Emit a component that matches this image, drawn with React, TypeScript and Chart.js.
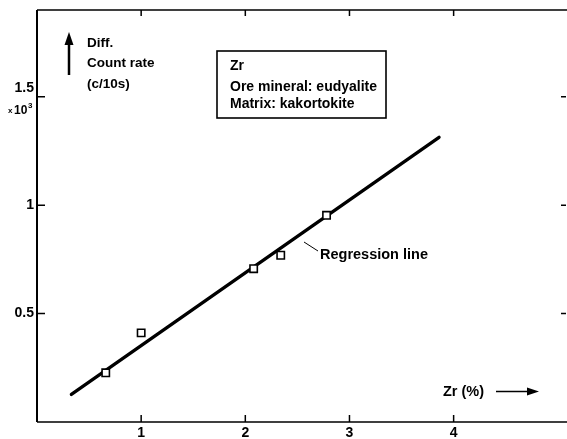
import React, { useEffect, useRef } from 'react';
import { Chart, registerables } from 'chart.js';

Chart.register(...registerables);

// Calibration standards: Zr content (%) vs. differential count rate (x10^3 c/10s)
const ZR_PERCENT = [0.66, 1.0, 2.08, 2.34, 2.78];
const COUNT_RATE = [0.227, 0.411, 0.707, 0.769, 0.953];

// Regression line end points
const FIT_X = [0.33, 3.86];
const FIT_Y = [0.127, 1.313];

const X_TICKS = [1, 2, 3, 4];
const X_TICK_LABELS = ['1', '2', '3', '4'];
const Y_TICKS = [0.5, 1, 1.5];
const Y_TICK_LABELS = ['0.5', '1', '1.5'];

const X_MAX = 5.1;
const Y_MAX = 1.9;

const FONT = '"Liberation Sans", Arial, sans-serif';

const frameAndNotes = {
  id: 'frameAndNotes',
  afterDraw(chart: any) {
    const ctx = chart.ctx as CanvasRenderingContext2D;
    const { left, right, top, bottom } = chart.chartArea;
    const xs = chart.scales.x;
    const ys = chart.scales.y;
    ctx.save();
    ctx.strokeStyle = '#000';
    ctx.fillStyle = '#000';

    // frame: open on the right
    ctx.lineWidth = 2;
    ctx.beginPath();
    ctx.moveTo(left, top);
    ctx.lineTo(left, bottom);
    ctx.stroke();
    ctx.lineWidth = 1.6;
    ctx.beginPath();
    ctx.moveTo(left, top);
    ctx.lineTo(right, top);
    ctx.moveTo(left, bottom);
    ctx.lineTo(right, bottom);
    ctx.stroke();

    // inward tick marks
    ctx.lineWidth = 1.5;
    ctx.beginPath();
    X_TICKS.forEach((v) => {
      const px = xs.getPixelForValue(v);
      ctx.moveTo(px, bottom);
      ctx.lineTo(px, bottom - 7);
      ctx.moveTo(px, top);
      ctx.lineTo(px, top + 6);
    });
    Y_TICKS.forEach((v) => {
      const py = ys.getPixelForValue(v);
      ctx.moveTo(left, py);
      ctx.lineTo(left + 8, py);
      ctx.moveTo(566, py);
      ctx.lineTo(561, py);
    });
    ctx.stroke();

    // tick labels
    ctx.font = `bold 14px ${FONT}`;
    ctx.textAlign = 'center';
    ctx.textBaseline = 'middle';
    X_TICKS.forEach((v, i) => {
      ctx.fillText(X_TICK_LABELS[i], xs.getPixelForValue(v), bottom + 11);
    });
    ctx.textAlign = 'right';
    Y_TICKS.forEach((v, i) => {
      const py = ys.getPixelForValue(v);
      const dy = v === 1.5 ? -9 : 0;
      ctx.fillText(Y_TICK_LABELS[i], left - 3, py + dy);
    });
    // multiplier under the top label
    ctx.textAlign = 'left';
    const py15 = ys.getPixelForValue(1.5);
    ctx.font = `bold 8px ${FONT}`;
    ctx.fillText('x', 8, py15 + 14);
    ctx.font = `bold 12px ${FONT}`;
    ctx.fillText('10', 14, py15 + 14);
    ctx.font = `bold 8px ${FONT}`;
    ctx.fillText('3', 28, py15 + 9);

    // y-axis title with upward arrow
    ctx.lineWidth = 2.5;
    ctx.beginPath();
    ctx.moveTo(69, 75);
    ctx.lineTo(69, 42);
    ctx.stroke();
    ctx.beginPath();
    ctx.moveTo(69, 32);
    ctx.lineTo(73.5, 45);
    ctx.lineTo(64.5, 45);
    ctx.closePath();
    ctx.fill();
    ctx.font = `bold 13.5px ${FONT}`;
    ctx.textAlign = 'left';
    ctx.fillText('Diff.', 87, 43);
    ctx.fillText('Count rate', 87, 63);
    ctx.fillText('(c/10s)', 87, 84);

    // info box
    ctx.lineWidth = 1.6;
    ctx.strokeRect(217, 51, 169, 67);
    ctx.font = `bold 14px ${FONT}`;
    ctx.fillText('Zr', 230, 66);
    ctx.fillText('Ore mineral: eudyalite', 230, 87);
    ctx.fillText('Matrix: kakortokite', 230, 104);

    // regression line note
    ctx.lineWidth = 1;
    ctx.beginPath();
    ctx.moveTo(304, 242);
    ctx.lineTo(318, 251);
    ctx.stroke();
    ctx.font = `bold 14.5px ${FONT}`;
    ctx.fillText('Regression line', 320, 255);

    // x-axis title with arrow
    ctx.font = `bold 14.5px ${FONT}`;
    ctx.fillText('Zr (%)', 443, 392);
    ctx.lineWidth = 1.5;
    ctx.beginPath();
    ctx.moveTo(496, 391.5);
    ctx.lineTo(530, 391.5);
    ctx.stroke();
    ctx.beginPath();
    ctx.moveTo(539, 391.5);
    ctx.lineTo(527, 387.5);
    ctx.lineTo(527, 395.5);
    ctx.closePath();
    ctx.fill();

    ctx.restore();
  },
};

export default function App() {
  const ref = useRef<HTMLCanvasElement | null>(null);

  useEffect(() => {
    if (!ref.current) return;
    const chart = new Chart(ref.current, {
      type: 'scatter',
      data: {
        datasets: [
          {
            label: 'Standards',
            data: ZR_PERCENT.map((x, i) => ({ x, y: COUNT_RATE[i] })),
            pointStyle: 'rect',
            pointRadius: 5.2,
            pointBorderWidth: 1.6,
            pointBorderColor: '#000',
            pointBackgroundColor: '#fff',
            showLine: false,
            order: 0,
          },
          {
            label: 'Regression line',
            data: FIT_X.map((x, i) => ({ x, y: FIT_Y[i] })),
            showLine: true,
            borderColor: '#000',
            borderWidth: 3.3,
            pointRadius: 0,
            borderCapStyle: 'round',
            order: 1,
          },
        ],
      },
      options: {
        responsive: false,
        animation: false,
        devicePixelRatio: 1,
        layout: { padding: { top: 10, right: 2, bottom: 0, left: 0 } },
        plugins: { legend: { display: false }, tooltip: { enabled: false } },
        scales: {
          x: {
            type: 'linear',
            min: 0,
            max: X_MAX,
            grid: { display: false, drawTicks: false },
            border: { display: false },
            ticks: { display: false },
            afterFit: (s: any) => {
              s.height = 17;
            },
          },
          y: {
            type: 'linear',
            min: 0,
            max: Y_MAX,
            grid: { display: false, drawTicks: false },
            border: { display: false },
            ticks: { display: false },
            afterFit: (s: any) => {
              s.width = 37;
            },
          },
        },
      },
      plugins: [frameAndNotes],
    });
    return () => chart.destroy();
  }, []);

  return (
    <div
      style={{
        position: 'fixed',
        left: 0,
        top: 0,
        width: 567,
        height: 439,
        overflow: 'hidden',
        background: '#fff',
      }}
    >
      <canvas ref={ref} width={575} height={439} style={{ width: 575, height: 439 }} />
    </div>
  );
}
